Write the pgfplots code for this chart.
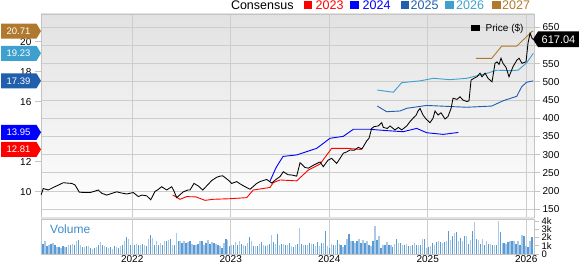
\documentclass[border=0pt]{standalone}
\usepackage{fontspec}
\setmainfont{Liberation Sans}
\usepackage{pgfplots}
\usepackage{pgfplotstable}
\pgfplotsset{compat=1.18}
\newcommand\fs[1]{\fontsize{#1}{#1}\selectfont}
\definecolor{cBrown}{HTML}{B07A2E}
\definecolor{cLight}{HTML}{3DA0CF}
\definecolor{cMed}{HTML}{1F5FAE}
\definecolor{cBlue}{HTML}{0000FF}
\definecolor{cRed}{HTML}{FF0000}
\definecolor{gridgray}{HTML}{CDCDCD}
\definecolor{bordergray}{HTML}{C4C4C4}
\definecolor{bggray}{HTML}{E2E2E2}
\definecolor{volLight}{HTML}{A9C9E8}
\definecolor{volDark}{HTML}{5A9BD5}
\definecolor{volText}{HTML}{3A8CCD}

\pgfplotstableread{
x p
2021.074 189
2021.097 207
2021.148 203
2021.199 210
2021.247 216
2021.301 223
2021.338 222
2021.386 221
2021.419 217
2021.463 197
2021.521 196
2021.572 196
2021.612 199
2021.656 203
2021.690 194
2021.741 189
2021.785 193
2021.843 198
2021.886 195
2021.944 192
2022.011 196
2022.062 185
2022.099 189
2022.147 187
2022.188 176
2022.231 199
2022.262 204
2022.299 212
2022.350 203
2022.401 212
2022.424 200
2022.452 182
2022.485 190
2022.519 198
2022.566 203
2022.587 203
2022.627 221
2022.671 214
2022.716 203
2022.759 215
2022.807 229
2022.858 238
2022.891 241
2022.919 242
2022.952 235
2022.976 230
2023.010 221
2023.061 226
2023.094 220
2023.145 212
2023.196 205
2023.264 221
2023.297 226
2023.365 232
2023.416 222
2023.460 232
2023.501 240
2023.534 253
2023.582 245
2023.622 244
2023.670 241
2023.704 278
2023.754 265
2023.788 263
2023.846 272
2023.907 280
2023.940 267
2023.988 285
2024.025 290
2024.076 276
2024.110 290
2024.143 304
2024.181 308
2024.211 313
2024.252 312
2024.295 320
2024.333 316
2024.381 338
2024.404 345
2024.431 372
2024.455 377
2024.498 379
2024.533 388
2024.549 375
2024.590 372
2024.617 379
2024.668 368
2024.702 375
2024.736 368
2024.787 379
2024.820 391
2024.851 400
2024.881 408
2024.902 420
2024.922 427
2024.952 409
2024.983 398
2025.023 388
2025.054 400
2025.074 420
2025.105 409
2025.135 415
2025.176 398
2025.206 405
2025.237 427
2025.257 455
2025.297 452
2025.328 459
2025.358 450
2025.399 446
2025.419 448
2025.440 505
2025.470 510
2025.500 514
2025.531 524
2025.551 514
2025.582 524
2025.612 510
2025.653 500
2025.683 551
2025.704 555
2025.724 548
2025.744 565
2025.764 551
2025.795 540
2025.825 514
2025.866 542
2025.906 560
2025.927 565
2025.957 551
2025.998 555
2026.018 606
2026.039 634
2026.059 620
2026.069 617
}\pricetable

\pgfplotstableread{
x e
2022.411 9.78
2022.485 9.49
2022.553 9.67
2022.648 9.65
2022.739 9.42
2022.823 9.49
2022.993 9.53
2023.162 9.60
2023.229 10.11
2023.399 10.28
2023.432 10.60
2023.501 10.78
2023.670 10.72
2023.788 11.44
2023.907 11.84
2024.025 12.89
2024.178 12.89
2024.330 12.81
}\epsA

\pgfplotstableread{
x e
2023.399 10.70
2023.460 11.60
2023.531 12.35
2023.670 12.45
2023.772 12.67
2023.873 12.89
2024.008 13.56
2024.143 13.69
2024.245 14.16
2024.414 14.16
2024.584 14.07
2024.752 14.00
2024.888 14.22
2024.990 13.93
2025.158 13.82
2025.311 13.95
}\epsB

\pgfplotstableread{
x e
2024.488 15.71
2024.584 15.33
2024.719 15.38
2024.787 15.56
2024.990 15.75
2025.226 15.68
2025.396 15.63
2025.650 15.71
2025.768 16.07
2025.904 16.36
2025.954 17.00
2026.005 17.30
2026.072 17.39
}\epsC

\pgfplotstableread{
x e
2024.488 16.78
2024.651 16.63
2024.736 17.27
2024.922 17.39
2025.057 17.56
2025.226 17.47
2025.396 17.56
2025.599 17.89
2025.701 18.10
2025.853 18.07
2025.920 18.11
2026.005 18.60
2026.072 19.23
}\epsD

\pgfplotstableread{
x e
2025.490 18.89
2025.650 18.89
2025.751 19.71
2025.904 19.71
2026.056 20.67
2026.072 20.71
}\epsE

\pgfplotstableread{
v
1.62
1.21
1.54
0.93
1.05
1.21
1.33
1.13
0.81
0.85
0.73
0.93
0.81
0.89
1.13
1.05
1.21
1.13
1.62
1.74
1.13
0.89
0.81
0.97
0.93
0.73
0.65
0.73
0.81
1.13
1.45
1.05
0.93
0.85
0.73
0.81
0.61
0.93
0.81
0.73
0.93
1.05
1.54
2.02
1.86
1.05
1.21
1.05
1.21
1.13
1.05
1.21
1.05
0.93
1.86
2.34
1.94
1.13
1.54
1.05
1.33
1.13
1.54
1.54
1.70
1.86
1.13
1.05
2.55
1.62
1.54
1.33
1.62
1.33
1.45
1.54
1.21
1.13
1.13
1.21
1.62
1.54
1.13
1.33
1.74
1.21
1.45
1.33
1.25
1.13
0.93
0.73
1.33
1.86
1.74
0.93
1.05
1.13
1.45
1.05
1.62
1.21
1.13
0.93
1.33
2.02
1.62
0.93
0.93
0.93
1.21
1.45
1.13
0.93
1.05
1.21
2.34
1.45
1.21
2.42
1.13
1.21
1.21
1.05
1.13
1.33
0.93
0.81
1.13
1.21
3.15
1.21
1.13
1.05
1.13
1.33
1.21
1.21
0.93
1.45
0.93
1.33
1.33
2.75
0.93
0.73
1.21
1.05
1.13
1.74
1.21
1.13
0.81
1.05
1.86
2.42
1.54
1.54
1.33
1.62
1.86
1.33
1.74
1.33
1.62
1.05
0.93
1.54
3.35
1.74
2.14
0.73
1.13
1.05
1.45
1.13
1.05
0.81
1.21
1.86
1.33
1.33
1.13
1.05
1.21
0.93
0.93
1.13
1.29
1.13
1.05
1.13
1.82
1.82
0.73
0.81
1.01
1.33
1.13
1.45
1.54
1.45
1.33
1.45
1.54
2.83
1.74
2.22
2.55
2.63
1.62
1.94
1.54
2.14
2.22
1.21
1.74
2.75
3.88
1.86
1.74
1.21
1.86
1.13
1.54
1.21
1.21
1.05
1.13
1.05
4.04
2.67
1.33
1.33
1.21
1.45
1.62
1.62
1.54
1.21
1.62
1.05
2.26
2.14
0.93
0.85
1.54
2.02
}\voltable

\begin{document}
\begin{tikzpicture}[x=1pt,y=1pt]
\path[use as bounding box] (0,0) rectangle (579,264);

% ---------- price frame: background, grid, right ticks
\begin{axis}[at={(41pt,47pt)}, anchor=south west, scale only axis,
  width=493pt, height=203pt,
  xmin=2021.074, xmax=2026.079, ymin=128.8, ymax=686.5,
  axis background/.style={top color=bggray, bottom color=white},
  xtick={2022,2023,2024,2025,2026}, xticklabels={},
  xtick style={draw=none},
  ytick={150,200,250,300,350,400,450,500,550,600,650},
  yticklabels={150,200,250,300,350,400,450,500,550,,650},
  ytick pos=right,
  xmajorgrids, ymajorgrids,
  grid style={gridgray, line width=0.8pt},
  axis line style={bordergray, line width=0.8pt},
  tick align=outside, major tick length=6pt,
  ytick style={bordergray, line width=0.8pt},
  yticklabel style={font=\fs{10}, inner sep=0pt, anchor=west, xshift=2.5pt}]
\end{axis}

% ---------- EPS axis
\begin{axis}[at={(41pt,47pt)}, anchor=south west, scale only axis,
  width=493pt, height=203pt,
  xmin=2021.074, xmax=2026.079, ymin=8.31, ymax=21.85,
  hide x axis, axis y line*=left,
  y axis line style={draw=none},
  ytick={10,12,14,16,18,20}, yticklabels={10,12,,16,18,20},
  tick align=outside, major tick length=6pt,
  ytick style={bordergray, line width=0.8pt},
  yticklabel style={font=\fs{10}, inner sep=0pt, anchor=east, xshift=-3.5pt}]
\addplot[cRed, line width=0.9pt] table[x=x,y=e] {\epsA};
\addplot[cBlue, line width=0.9pt] table[x=x,y=e] {\epsB};
\addplot[cMed, line width=0.9pt] table[x=x,y=e] {\epsC};
\addplot[cLight, line width=0.9pt] table[x=x,y=e] {\epsD};
\addplot[cBrown, line width=0.9pt] table[x=x,y=e] {\epsE};
\end{axis}

% ---------- price line
\begin{axis}[at={(41pt,47pt)}, anchor=south west, scale only axis,
  width=493pt, height=203pt,
  xmin=2021.074, xmax=2026.079, ymin=128.8, ymax=686.5,
  hide axis]
\addplot[black, line width=0.85pt] table[x=x,y=p] {\pricetable};
\end{axis}

% band between panels
\fill[bggray] (41,45) rectangle (534,47);

% ---------- volume
\begin{axis}[at={(41pt,10pt)}, anchor=south west, scale only axis,
  width=493pt, height=35pt,
  xmin=2021.074, xmax=2026.079, ymin=0, ymax=4.24,
  xtick={2022,2023,2024,2025,2026},
  xticklabels={2022,2023,2024,2025,2026},
  xtick style={draw=none},
  xticklabel style={font=\fs{10}, inner sep=0pt, anchor=north, yshift=3.2pt},
  xmajorgrids, grid style={gridgray, line width=0.8pt},
  ytick={0,1,2,3,4}, yticklabels={0,1k,2k,3k,4k}, ytick pos=right,
  tick align=outside, major tick length=5pt,
  ytick style={bordergray, line width=0.8pt},
  yticklabel style={font=\fs{9.5}, inner sep=0pt, anchor=west, xshift=2.5pt},
  axis line style={bordergray, line width=0.8pt}]
\addplot[ycomb, volLight, line width=1.3pt, no marks,
  restrict expr to domain={mod(\coordindex,2)}{-0.5:0.5}]
  table[x expr=2021.074+\coordindex*0.02018, y=v] {\voltable};
\addplot[ycomb, volDark, line width=1.3pt, no marks,
  restrict expr to domain={mod(\coordindex,2)}{0.5:1.5}]
  table[x expr=2021.074+\coordindex*0.02018, y=v] {\voltable};
\end{axis}
\node[anchor=west, inner sep=0pt, text=volText, font=\fs{12}] at (50,35) {Volume};

% ---------- top legend
\node[anchor=west, inner sep=0pt, font=\fs{12.5}] at (230.8,258.3) {Consensus};
\fill[cRed] (303.5,254.5) rectangle (312,263);
\node[anchor=west, inner sep=0pt, font=\fs{12.5}, text=cRed] at (315.5,258.3) {2023};
\fill[cBlue] (350,254.5) rectangle (358.5,263);
\node[anchor=west, inner sep=0pt, font=\fs{12.5}, text=cBlue] at (362.5,258.3) {2024};
\fill[cMed] (400.5,254.5) rectangle (409,263);
\node[anchor=west, inner sep=0pt, font=\fs{12.5}, text=cMed] at (410.5,258.3) {2025};
\fill[cLight] (445,254.5) rectangle (453.5,263);
\node[anchor=west, inner sep=0pt, font=\fs{12.5}, text=cLight] at (456,258.3) {2026};
\fill[cBrown] (492,254.5) rectangle (500.5,263);
\node[anchor=west, inner sep=0pt, font=\fs{12.5}, text=cBrown] at (502,258.3) {2027};

% price legend inside
\fill[black] (471,233) rectangle (480,238.5);
\node[anchor=west, inner sep=0pt, font=\fs{10}] at (485.5,235.6) {Price (\$)};

% ---------- left tags
\newcommand\ltag[3]{%
  \fill[#1] (1,#2-7.5) -- (36.5,#2-7.5) -- (41,#2) -- (36.5,#2+7.5) -- (1,#2+7.5) -- cycle;
  \node[text=white, font=\fs{9.5}, inner sep=0pt] at (18.5,#2) {#3};}
\ltag{cBrown}{232.9}{20.71}
\ltag{cLight}{210.7}{19.23}
\ltag{cMed}{183.1}{17.39}
\ltag{cBlue}{131.6}{13.95}
\ltag{cRed}{114.5}{12.81}

% right price tag
\fill[black] (533,224.7) -- (538,232.5) -- (579,232.5) -- (579,216.9) -- (538,216.9) -- cycle;
\node[text=white, font=\fs{11}, inner sep=0pt, anchor=west] at (541.5,224.7) {617.04};
\end{tikzpicture}
\end{document}
